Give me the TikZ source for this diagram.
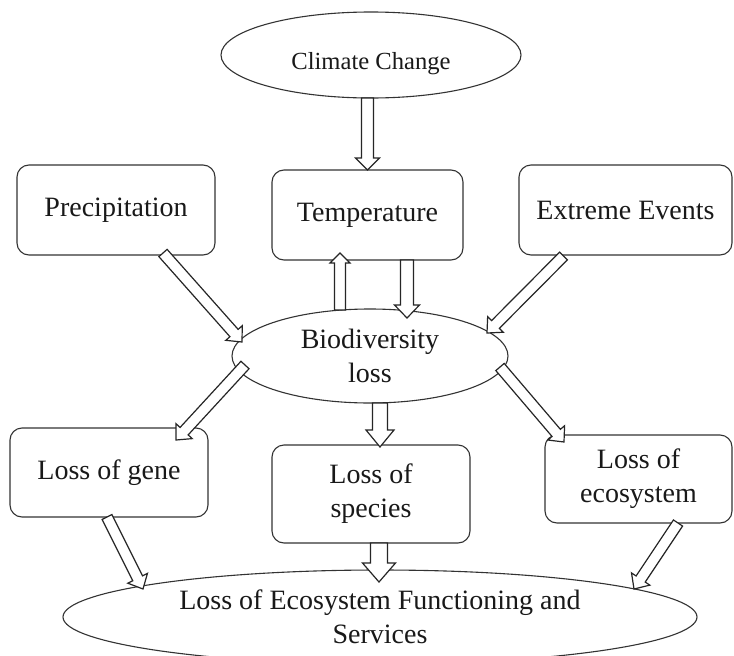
\documentclass[tikz,border=0pt]{standalone}
\usepackage{fontspec}
\setmainfont{Liberation Serif}
\usetikzlibrary{calc,shapes.geometric}

% Hollow block arrow from #1 to #2 (shaft half-width #3, head half-width #4, head length #5)
\newcommand\fatarrow[5]{%
  \begin{scope}
    \coordinate (fa-s) at (#1);
    \coordinate (fa-t) at (#2);
    \coordinate (fa-h) at ($(fa-t)!#5!(fa-s)$);
    \draw[hollow]
      ($(fa-s)!#3!90:(fa-t)$) -- ($(fa-h)!#3!-90:(fa-s)$) --
      ($(fa-h)!#4!-90:(fa-s)$) -- (fa-t) --
      ($(fa-h)!#4!90:(fa-s)$) -- ($(fa-h)!#3!90:(fa-s)$) --
      ($(fa-s)!#3!-90:(fa-t)$) -- cycle;
  \end{scope}}

\begin{document}
\begin{tikzpicture}[x=1pt,y=-1pt,
  every node/.style={inner sep=0pt,outer sep=0pt,text=black!90},
  txt/.style={font=\fontsize{28}{34}\selectfont,align=center},
  box/.style={txt,draw=black!80,line width=1.1pt,rounded corners=12pt,fill=white},
  oval/.style={txt,ellipse,draw=black!80,line width=1.1pt,fill=white},
  hollow/.style={draw=black!85,line width=1.2pt,fill=white,line join=miter}]
  \clip (0,0) rectangle (734,656);
  \fill[white] (0,0) rectangle (734,656);

  % causes
  \node[oval,minimum width=300pt,minimum height=86pt,text height=28pt,text depth=0pt,
        font=\fontsize{24.6}{30}\selectfont] (clim) at (371,55) {Climate Change};
  \node[box,minimum width=198pt,minimum height=90pt] (prec) at (116,210) {Precipitation};
  \node[box,minimum width=191pt,minimum height=90pt] (temp) at (367.5,215) {Temperature};
  \node[box,minimum width=213pt,minimum height=90pt] (ext) at (625.5,210) {Extreme Events};

  % central effect
  \node[oval,minimum width=276pt,minimum height=94pt] (bio) at (370,356) {Biodiversity\\loss};

  % levels of loss
  \node[box,minimum width=198pt,minimum height=89pt] (gene) at (109,472.5) {Loss of gene};
  \node[box,minimum width=198pt,minimum height=98pt] (spec) at (371,494) {Loss of\\species};
  \node[box,minimum width=187pt,minimum height=88pt] (eco) at (638.5,479) {Loss of\\ecosystem};

  % overall outcome
  \node[oval,minimum width=634pt,minimum height=94pt] (bot) at (380,617)
       {Loss of Ecosystem Functioning and\\Services};

  % connectors
  \fatarrow{temp.north |- clim.south}{temp.north}{6pt}{12pt}{12pt}
  \fatarrow{$(bio.center)+(-30,-46)$}{$(temp.south)+(-27.5,-7)$}{5.5pt}{10pt}{10pt}
  \fatarrow{$(temp.south)+(39.5,0)$}{$(bio.center)+(37,-38)$}{6.5pt}{12.5pt}{13pt}
  \fatarrow{$(prec.south)+(47,-2)$}{$(bio.center)+(-128,-14)$}{5.5pt}{11pt}{12pt}
  \fatarrow{$(ext.south)+(-62,1)$}{$(bio.center)+(117,-23)$}{5.5pt}{11pt}{12pt}
  \fatarrow{$(bio.center)+(-125,9)$}{$(gene.north)+(67,12)$}{5.5pt}{11pt}{12pt}
  \fatarrow{$(bio.south)+(10,0)$}{$(spec.north)+(9,2)$}{7.5pt}{14pt}{17pt}
  \fatarrow{$(bio.center)+(130,11)$}{$(eco.north)+(-74.5,7)$}{5.5pt}{11pt}{12pt}
  \fatarrow{$(gene.south)+(-2,0)$}{$(bot.center)+(-237,-28)$}{5.5pt}{11pt}{12pt}
  \fatarrow{$(spec.south)+(8,0)$}{$(bot.north)+(-1,12)$}{8.5pt}{16.5pt}{19pt}
  \fatarrow{$(eco.south)+(39.5,0)$}{$(bot.center)+(254,-28)$}{5.5pt}{11pt}{12pt}
\end{tikzpicture}
\end{document}
